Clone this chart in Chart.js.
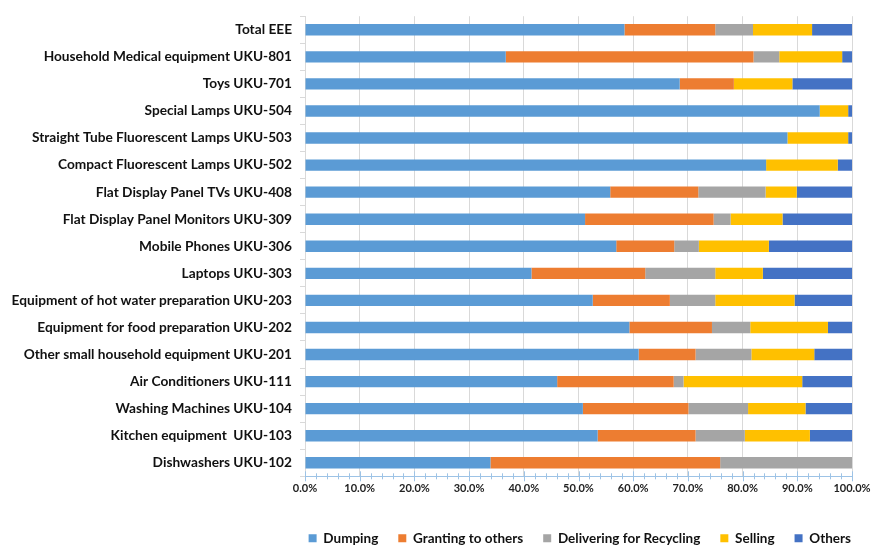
<!DOCTYPE html>
<html>
<head>
<meta charset="utf-8">
<script src="https://cdn.jsdelivr.net/npm/chart.js@4"></script>
<style>
  html, body { margin: 0; padding: 0; background: #fff; }
  #wrap { width: 871px; height: 545px; }
</style>
</head>
<body>
<div id="wrap"><canvas id="myChart"></canvas></div>
<script>
const categories = ['Total EEE', 'Household Medical equipment UKU-801', 'Toys UKU-701', 'Special Lamps UKU-504',
    'Straight Tube Fluorescent Lamps UKU-503', 'Compact Fluorescent Lamps UKU-502', 'Flat Display Panel TVs UKU-408',
    'Flat Display Panel Monitors UKU-309', 'Mobile Phones UKU-306', 'Laptops UKU-303',
    'Equipment of hot water preparation UKU-203', 'Equipment for food preparation UKU-202',
    'Other small household equipment UKU-201', 'Air Conditioners UKU-111', 'Washing Machines UKU-104',
    'Kitchen equipment  UKU-103', 'Dishwashers UKU-102'];

const dumping   = [58.4, 36.7, 68.5, 94.1, 88.2, 84.3, 55.8, 51.2, 56.9, 41.4, 52.6, 59.3, 61.0, 46.1, 50.8, 53.5, 33.9];
const granting  = [16.6, 45.3, 9.9, 0, 0, 0, 16.1, 23.5, 10.6, 20.8, 14.1, 15.1, 10.4, 21.3, 19.3, 17.9, 42.0];
const recycling = [6.9, 4.7, 0, 0, 0, 0, 12.3, 3.1, 4.5, 12.8, 8.3, 7.0, 10.2, 1.8, 10.9, 9.0, 24.1];
const selling   = [10.8, 11.5, 10.7, 5.2, 11.1, 13.1, 5.7, 9.5, 12.8, 8.7, 14.5, 14.2, 11.5, 21.7, 10.5, 11.9, 0];
const others    = [7.3, 1.8, 10.9, 0.7, 0.7, 2.6, 10.1, 12.7, 15.2, 16.3, 10.5, 4.4, 6.9, 9.1, 8.5, 7.7, 0];

const FONT = 'Lato, "DejaVu Sans", sans-serif';

// small minor ticks on the x axis, every 2%
const minorTicks = {
    id: 'minorTicks',
    afterDraw(chart) {
        const x = chart.scales.x;
        const ctx = chart.ctx;
        const y0 = chart.chartArea.bottom;
        ctx.save();
        ctx.strokeStyle = '#9dc3e6';
        ctx.lineWidth = 1;
        for (let v = 0; v <= 100; v += 2) {
            const px = Math.round(x.getPixelForValue(v)) + 0.5;
            const len = v % 10 === 0 ? 5 : 3;
            ctx.beginPath();
            ctx.moveTo(px, y0 - len);
            ctx.lineTo(px, y0 + len);
            ctx.stroke();
        }
        ctx.restore();
    }
};

// push the legend a bit lower, like the original
const legendDown = {
    id: 'legendDown',
    afterLayout(chart) {
        chart.legend.top += 10;
        chart.legend.bottom += 10;
    }
};

function ds(label, data, color) {
    return {
        label: label,
        data: data,
        backgroundColor: color,
        borderWidth: 0,
        barPercentage: 0.42,
        categoryPercentage: 1
    };
}

const ctx = document.getElementById('myChart').getContext('2d');
const myChart = new Chart(ctx, {
    type: 'bar',
    data: {
        labels: categories,
        datasets: [
            ds('Dumping', dumping, '#5B9BD5'),
            ds('Granting to others', granting, '#ED7D31'),
            ds('Delivering for Recycling', recycling, '#A5A5A5'),
            ds('Selling', selling, '#FFC000'),
            ds('Others', others, '#4472C4')
        ]
    },
    options: {
        indexAxis: 'y',
        responsive: true,
        maintainAspectRatio: false,
        animation: false,
        layout: { padding: { left: 0, right: 0, top: 9, bottom: 0 } },
        scales: {
            x: {
                stacked: true,
                min: 0,
                max: 100,
                afterFit: s => { s.paddingRight = 19; },
                ticks: {
                    stepSize: 10,
                    callback: v => v.toFixed(1) + '%',
                    color: '#222',
                    font: { family: FONT, size: 11, weight: 'bold' },
                    padding: 6
                },
                grid: { color: '#d9d9d9', drawTicks: false },
                border: { color: '#9dc3e6' }
            },
            y: {
                stacked: true,
                afterFit: s => { s.width = 305; },
                ticks: {
                    color: '#111',
                    font: { family: FONT, size: 13.7, weight: 'bold' },
                    padding: 8
                },
                grid: { offset: true, drawOnChartArea: false, color: '#d9d9d9', tickLength: 5 },
                border: { color: '#d9d9d9' }
            }
        },
        plugins: {
            tooltip: { enabled: false },
            legend: {
                position: 'bottom',
                align: 'end',
                labels: {
                    boxWidth: 8,
                    boxHeight: 8,
                    padding: 20,
                    color: '#111',
                    font: { family: FONT, size: 13.5, weight: 'bold' }
                }
            }
        }
    },
    plugins: [minorTicks, legendDown]
});
</script>
</body>
</html>
